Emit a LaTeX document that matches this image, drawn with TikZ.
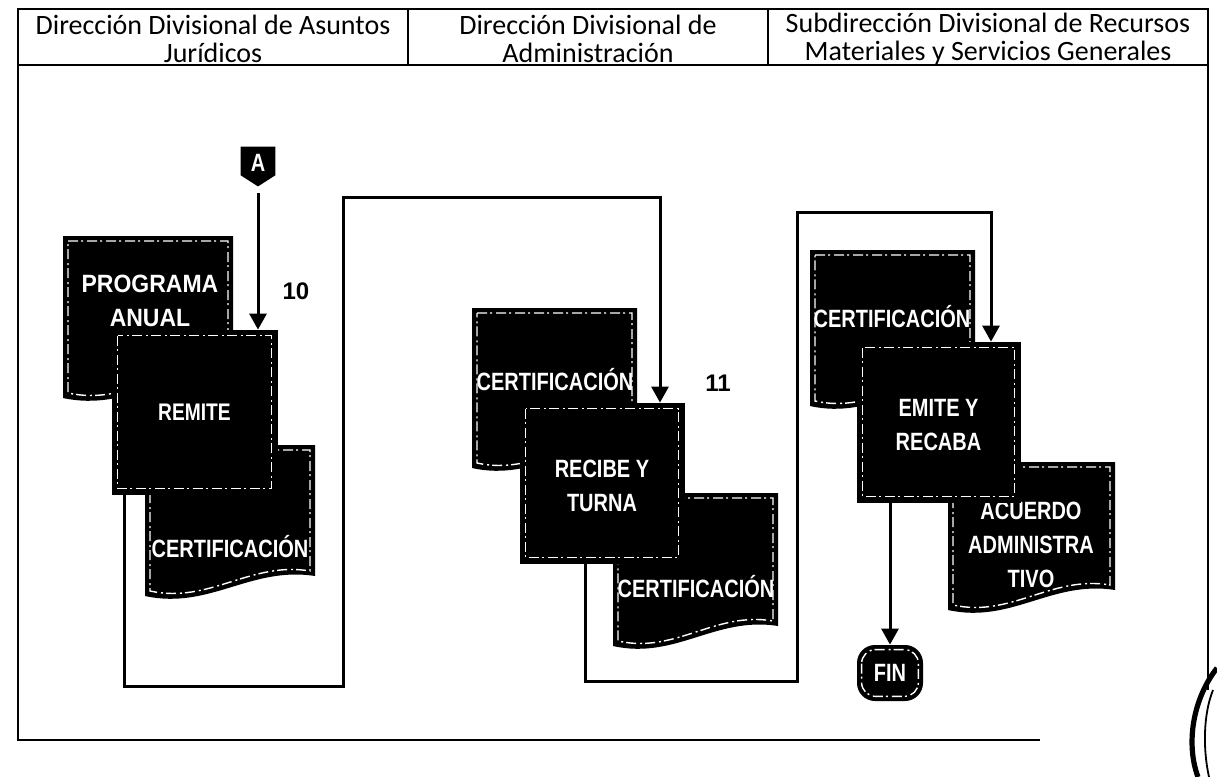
\documentclass[tikz,border=0pt]{standalone}
\usepackage{fontspec}
\setmainfont{Carlito}
\newfontfamily\shapefont{Liberation Sans}
\usetikzlibrary{arrows.meta,calc}

\tikzset{
  frame/.style={line width=1.3pt},
  conn/.style={line width=1.5pt},
  arr/.style={conn,-{Triangle[length=8pt,width=8.5pt]}},
  procbox/.style={fill=black, draw=black, inner sep=0pt},
  innerdash/.style={white, line width=0.7pt, dash pattern=on 5pt off 1.5pt on 1pt off 2pt},
  shapetext/.style={text=white, align=center, inner sep=0pt, font=\shapefont\bfseries\fontsize{12.5}{17}\selectfont, xscale=0.8},
  head/.style={align=center, inner sep=0pt, font=\fontsize{14}{14}\selectfont},
  steplabel/.style={font=\shapefont\bfseries\fontsize{12}{14}\selectfont},
}

% document symbol: x1 y1 x2 y2 (pixel units, y downward)
\newcommand{\docshape}[4]{%
  \fill[black] (#1,#2) -- (#3,#2) -- (#3,#4-24) .. controls ({#1+0.62*(#3-#1)},{#4-34}) and ({#1+0.38*(#3-#1)},{#4+10}) .. (#1,#4-4) -- cycle;
  \draw[innerdash] (#1+5,#2+5) -- (#3-5,#2+5) -- (#3-5,#4-29) .. controls ({#1+0.62*(#3-#1)},{#4-39}) and ({#1+0.38*(#3-#1)},{#4+4}) .. (#1+5,#4-9) -- cycle;
}
% process box: name cx cy w h (pixels)
\newcommand{\procshape}[5]{%
  \node[procbox, minimum width=#4*0.5pt, minimum height=#5*0.5pt] (#1) at (#2,#3) {};
  \draw[innerdash] ($(#1.north west)+(6,6)$) rectangle ($(#1.south east)+(-6,-6)$);
}

\begin{document}
\begin{tikzpicture}[x=0.5pt,y=-0.5pt]
\useasboundingbox (0,0) rectangle (1217,777);

% ---------- frame and header ----------
\draw[frame] (1208,690) -- (1208,9) -- (18,9) -- (18,740) -- (1040,740);
\draw[frame] (18,65) -- (1208,65);
\draw[frame] (408,9) -- (408,65);
\draw[frame] (768,9) -- (768,65);
\node[head] (h1) at (213,39) {Dirección Divisional de Asuntos\\Jurídicos};
\node[head] (h2) at (588,39) {Dirección Divisional de\\Administración};
\node[head] (h3) at (988,39) {Subdirección Divisional de Recursos\\Materiales y Servicios Generales};

% stamp-like curve at bottom right
\draw[line width=2.6pt] (1217,668) .. controls (1192,700) and (1186,745) .. (1198,777);
\draw[line width=0.9pt] (1213,690) .. controls (1203,715) and (1203,750) .. (1209,777);

% ---------- column 1 ----------
\node[inner sep=0pt, minimum width=17pt, minimum height=19.5pt] (A) at (258,166.5) {};
\fill[black] (A.north west) -- (A.north east) -- ($(A.north east)!0.72!(A.south east)$) -- (A.south) -- ($(A.north west)!0.72!(A.south west)$) -- cycle;
\node[shapetext] (At) at (258,163) {A};

\docshape{63}{236}{233}{402}
\node[shapetext, xscale=1.15] (progT) at (150,301) {PROGRAMA\\ANUAL};
\docshape{145}{445}{315}{600}
\node[shapetext] (cert1T) at (230,547) {CERTIFICACIÓN};
\procshape{remite}{194.5}{412}{165}{164}
\node[shapetext, font=\shapefont\bfseries\fontsize{12}{14}\selectfont] (remiteT) at (194.5,412) {REMITE};
\node[steplabel] (n10) at (296,291) {10};

% ---------- column 2 ----------
\docshape{472}{308}{637}{472}
\node[shapetext] (cert2T) at (555,380) {CERTIFICACIÓN};
\docshape{613}{493}{778}{650}
\node[shapetext] (cert3T) at (696,587) {CERTIFICACIÓN};
\procshape{recibe}{602}{483}{164}{160}
\node[shapetext] (recibeT) at (602,486) {RECIBE Y\\TURNA};
\node[steplabel] (n11) at (718,383) {11};

% ---------- column 3 ----------
\docshape{810}{250}{975}{410}
\node[shapetext] (cert4T) at (892,317) {CERTIFICACIÓN};
\docshape{948}{462}{1115}{614}
\node[shapetext] (acuT) at (1031,545) {ACUERDO\\ADMINISTRA\\TIVO};
\procshape{emite}{938.5}{422}{163}{160}
\node[shapetext] (emiteT) at (938.5,425) {EMITE Y\\RECABA};
\node[fill=black, rounded corners=9pt, minimum width=33pt, minimum height=28pt, inner sep=0pt] (fin) at (890,673) {};
\draw[innerdash, rounded corners=7pt] ($(fin.north west)+(5,5)$) rectangle ($(fin.south east)+(-5,-5)$);
\node[shapetext] (finT) at (890,673) {FIN};

% ---------- connectors ----------
\draw[arr] ($(A.south)+(0,7)$) -- (A.south |- remite.north);

\coordinate (l1a) at (124,686);
\coordinate (l1b) at (343,686);
\coordinate (l1c) at (343,197);
\coordinate (l1d) at (660,197);
\draw[arr] (remite.south -| l1a) -- (l1a) -- (l1b) -- (l1c) -- (l1d) -- (l1d |- recibe.north);

\coordinate (l2a) at (585,681);
\coordinate (l2b) at (797,681);
\coordinate (l2c) at (797,212);
\coordinate (l2d) at (991,212);
\draw[arr] (recibe.south -| l2a) -- (l2a) -- (l2b) -- (l2c) -- (l2d) -- (l2d |- emite.north);

\draw[arr] (emite.south -| fin.north) -- (fin.north);
\end{tikzpicture}
\end{document}
